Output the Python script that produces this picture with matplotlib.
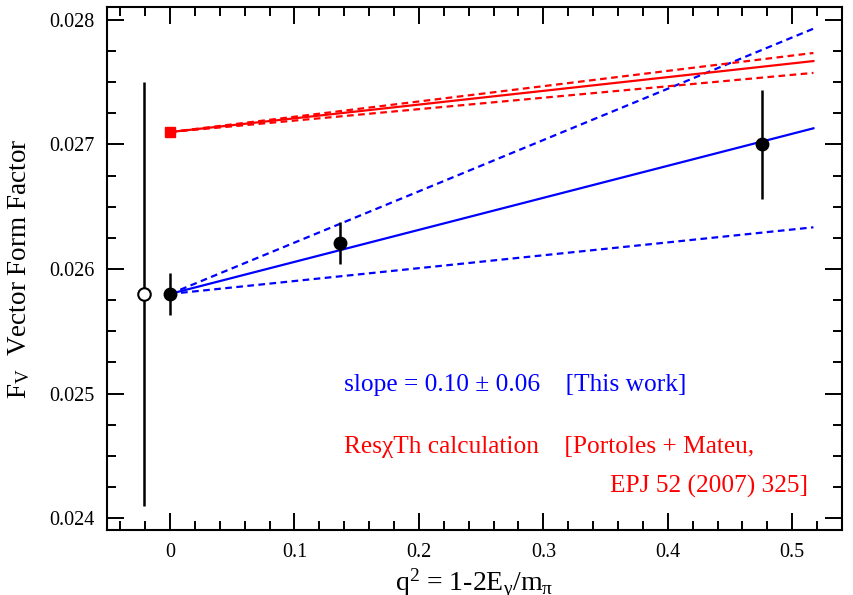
import matplotlib
matplotlib.use("Agg")
import matplotlib.pyplot as plt
from matplotlib.ticker import MultipleLocator

plt.rcParams['font.family'] = ['Liberation Serif', 'DejaVu Serif']
plt.rcParams['mathtext.fontset'] = 'custom'
plt.rcParams['mathtext.rm'] = 'Liberation Serif'
plt.rcParams['mathtext.it'] = 'Liberation Serif:italic'
plt.rcParams['mathtext.bf'] = 'Liberation Serif:bold'

# Data points (q^2, F_V, error)
open_x = [-0.021]
open_y = [0.0258]
open_err = [0.0017]

meas_x = [0.0, 0.137, 0.476]
meas_y = [0.0258, 0.02621, 0.0270]
meas_err = [0.00017, 0.00017, 0.00044]

# Fit line (this work) endpoints and bands
fit_x = [0.0, 0.517]
fit_central = [0.0258, 0.02713]
fit_upper = [0.0258, 0.02793]
fit_lower = [0.0258, 0.026335]

# ResChiTh calculation
th_x = [0.0, 0.517]
th_central = [0.0271, 0.02767]
th_upper = [0.0271, 0.027735]
th_lower = [0.0271, 0.027575]
th_point_x = [0.0]
th_point_y = [0.0271]

fig = plt.figure(figsize=(8.54, 5.95), dpi=100)
ax = fig.add_axes([0.1253, 0.1092, 0.8607, 0.8790])

blue = '#0000ff'
red = '#ff0000'
dash = (0, (3, 2))

ax.plot(fit_x, fit_upper, color=blue, lw=1.6, linestyle=dash)
ax.plot(fit_x, fit_lower, color=blue, lw=1.6, linestyle=dash)
ax.plot(fit_x, fit_central, color=blue, lw=1.6)

ax.plot(th_x, th_upper, color=red, lw=1.6, linestyle=dash)
ax.plot(th_x, th_lower, color=red, lw=1.6, linestyle=dash)
ax.plot(th_x, th_central, color=red, lw=1.6)
ax.plot(th_point_x, th_point_y, 's', color=red, ms=7.5, zorder=5)

ax.errorbar(open_x, open_y, yerr=open_err, fmt='o', mfc='white', mec='black',
            mew=1.5, ms=9, ecolor='black', elinewidth=1.8, capsize=0, zorder=6)
ax.errorbar(meas_x, meas_y, yerr=meas_err, fmt='o', color='black',
            ms=9, ecolor='black', elinewidth=1.8, capsize=0, zorder=6)

ax.set_xlim(-0.0506, 0.540)
ax.set_ylim(0.023904, 0.028104)

ax.xaxis.set_minor_locator(MultipleLocator(0.02))
ax.yaxis.set_minor_locator(MultipleLocator(0.00025))
ax.set_xticks([0, 0.1, 0.2, 0.3, 0.4, 0.5])
ax.set_xticklabels(['0', '0.1', '0.2', '0.3', '0.4', '0.5'])
ax.set_yticks([0.024, 0.025, 0.026, 0.027, 0.028])
ax.set_yticklabels(['0.024', '0.025', '0.026', '0.027', '0.028'])

ax.tick_params(which='both', direction='in', top=True, right=True, labelsize=14.5,
               width=1.4, colors='black')
ax.tick_params(which='major', length=12, pad=9)
ax.tick_params(which='minor', length=6.5)
for s in ax.spines.values():
    s.set_linewidth(1.5)

ax.set_ylabel(r'F$_\mathrm{V}$  Vector Form Factor', fontsize=19.5, labelpad=12)
ax.set_xlabel(r'q$^\mathrm{2}$ = 1-2E$_\mathrm{γ}$/m$_\mathrm{π}$', fontsize=20, labelpad=4)

ax.text(0.14, 0.025068, 'slope = 0.10 ± 0.06    [This work]', color=blue,
        fontsize=18.3, va='center', ha='left')
ax.text(0.14, 0.02457, 'ResχTh calculation    [Portoles + Mateu,', color=red,
        fontsize=18.3, va='center', ha='left')
ax.text(0.513, 0.024255, 'EPJ 52 (2007) 325]', color=red,
        fontsize=18.3, va='center', ha='right')

fig.savefig('out.png', dpi=100)
